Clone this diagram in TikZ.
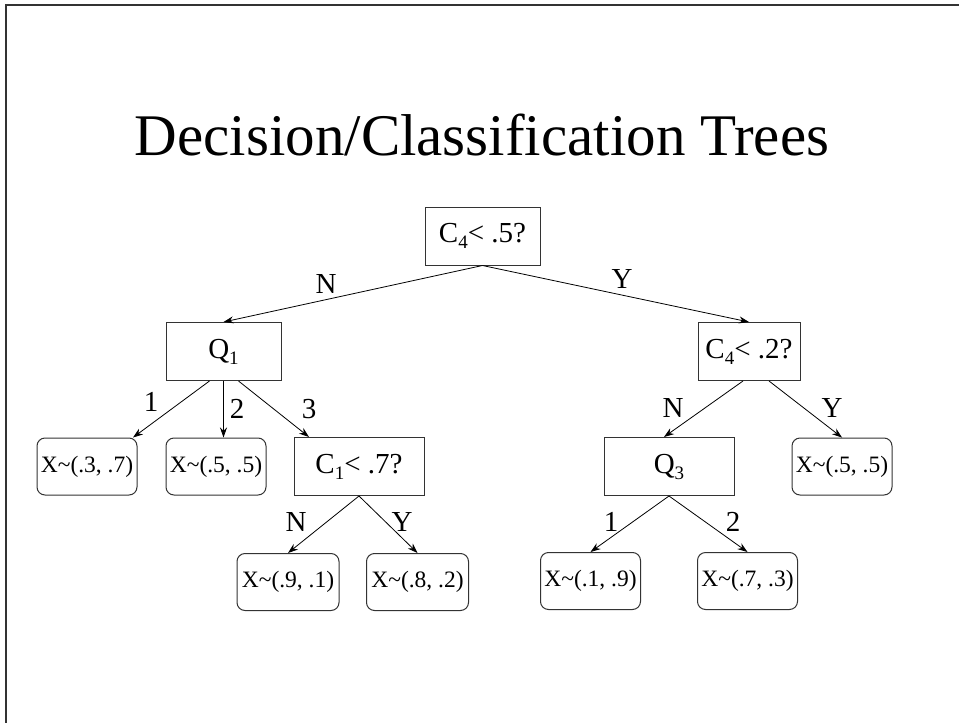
\documentclass[tikz,border=0pt]{standalone}
\usepackage{fontspec}
\setmainfont{Liberation Serif}
\usetikzlibrary{arrows.meta}
\newcommand\lowsub[1]{\raisebox{-0.45ex}{\fontsize{19}{19}\selectfont #1}}
\newcommand\dist[2]{X\textasciitilde(#1, #2)}
\begin{document}
\begin{tikzpicture}[x=1pt,y=-1pt,
  test/.style={draw=black!80,line width=1pt,inner sep=0pt,minimum height=58pt,
    font=\fontsize{29}{29}\selectfont},
  leaf/.style={draw=black!80,line width=1pt,rounded corners=8pt,inner sep=0pt,
    minimum width=100pt,minimum height=57pt,font=\fontsize{23.5}{24}\selectfont},
  lbl/.style={inner sep=0pt,font=\fontsize{29}{29}\selectfont},
  edge/.style={draw=black,line width=0.8pt,-{Stealth[length=10pt,width=7pt]}}]
\useasboundingbox (0,0) rectangle (959,723);
% slide frame
\draw[black!80,line width=1.5pt] (6,723) -- (6,5) -- (959,5);
% title
\node[anchor=base,inner sep=0pt,font=\fontsize{59}{59}\selectfont] (title) at (482,155)
  {Decision/Classification Trees};
% decision nodes
\node[test,minimum width=115pt] (root) at (482.5,236) {C\lowsub{4}< .5?};
\node[test,minimum width=115pt] (q1) at (223.5,351.5) {Q\lowsub{1}};
\node[test,minimum width=102pt] (c4b) at (749,351.5) {C\lowsub{4}< .2?};
\node[test,minimum width=130pt] (c1) at (359,466.5) {C\lowsub{1}< .7?};
\node[test,minimum width=130pt] (q3) at (669,466.5) {Q\lowsub{3}};
% leaves
\node[leaf] (l1) at (87,466.5) {\dist{.3}{.7}};
\node[leaf] (l2) at (216,466.5) {\dist{.5}{.5}};
\node[leaf] (l3) at (842,466.5) {\dist{.5}{.5}};
\node[leaf,minimum width=102pt] (l4) at (288,582) {\dist{.9}{.1}};
\node[leaf,minimum width=102pt] (l5) at (417.5,582) {\dist{.8}{.2}};
\node[leaf] (l6) at (590.5,581) {\dist{.1}{.9}};
\node[leaf] (l7) at (747.5,581) {\dist{.7}{.3}};
% branches
\draw[edge] (root.south) -- (q1.north);
\draw[edge] (root.south) -- (c4b.north);
\draw[edge] ([xshift=-14pt]q1.south) -- ([xshift=46pt]l1.north);
\draw[edge] (q1.south) -- (q1.south |- l2.north);
\draw[edge] ([xshift=15pt]q1.south) -- ([xshift=-50pt]c1.north);
\draw[edge] (c1.south) -- (l4.north);
\draw[edge] (c1.south) -- (l5.north);
\draw[edge] ([xshift=-6pt]c4b.south) -- ([xshift=-5pt]q3.north);
\draw[edge] ([xshift=20pt]c4b.south) -- (l3.north);
\draw[edge] (q3.south) -- (l6.north);
\draw[edge] (q3.south) -- (l7.north);
% branch labels
\node[lbl] (rn) at (326,284) {N};
\node[lbl] (ry) at (622,279) {Y};
\node[lbl] (q1a) at (151,402) {1};
\node[lbl] (q1b) at (237,409) {2};
\node[lbl] (q1c) at (309,409) {3};
\node[lbl] (c1n) at (296,522) {N};
\node[lbl] (c1y) at (402,522) {Y};
\node[lbl] (c4n) at (673,408) {N};
\node[lbl] (c4y) at (832,408) {Y};
\node[lbl] (q3a) at (611,522) {1};
\node[lbl] (q3b) at (733,522) {2};
\end{tikzpicture}
\end{document}
